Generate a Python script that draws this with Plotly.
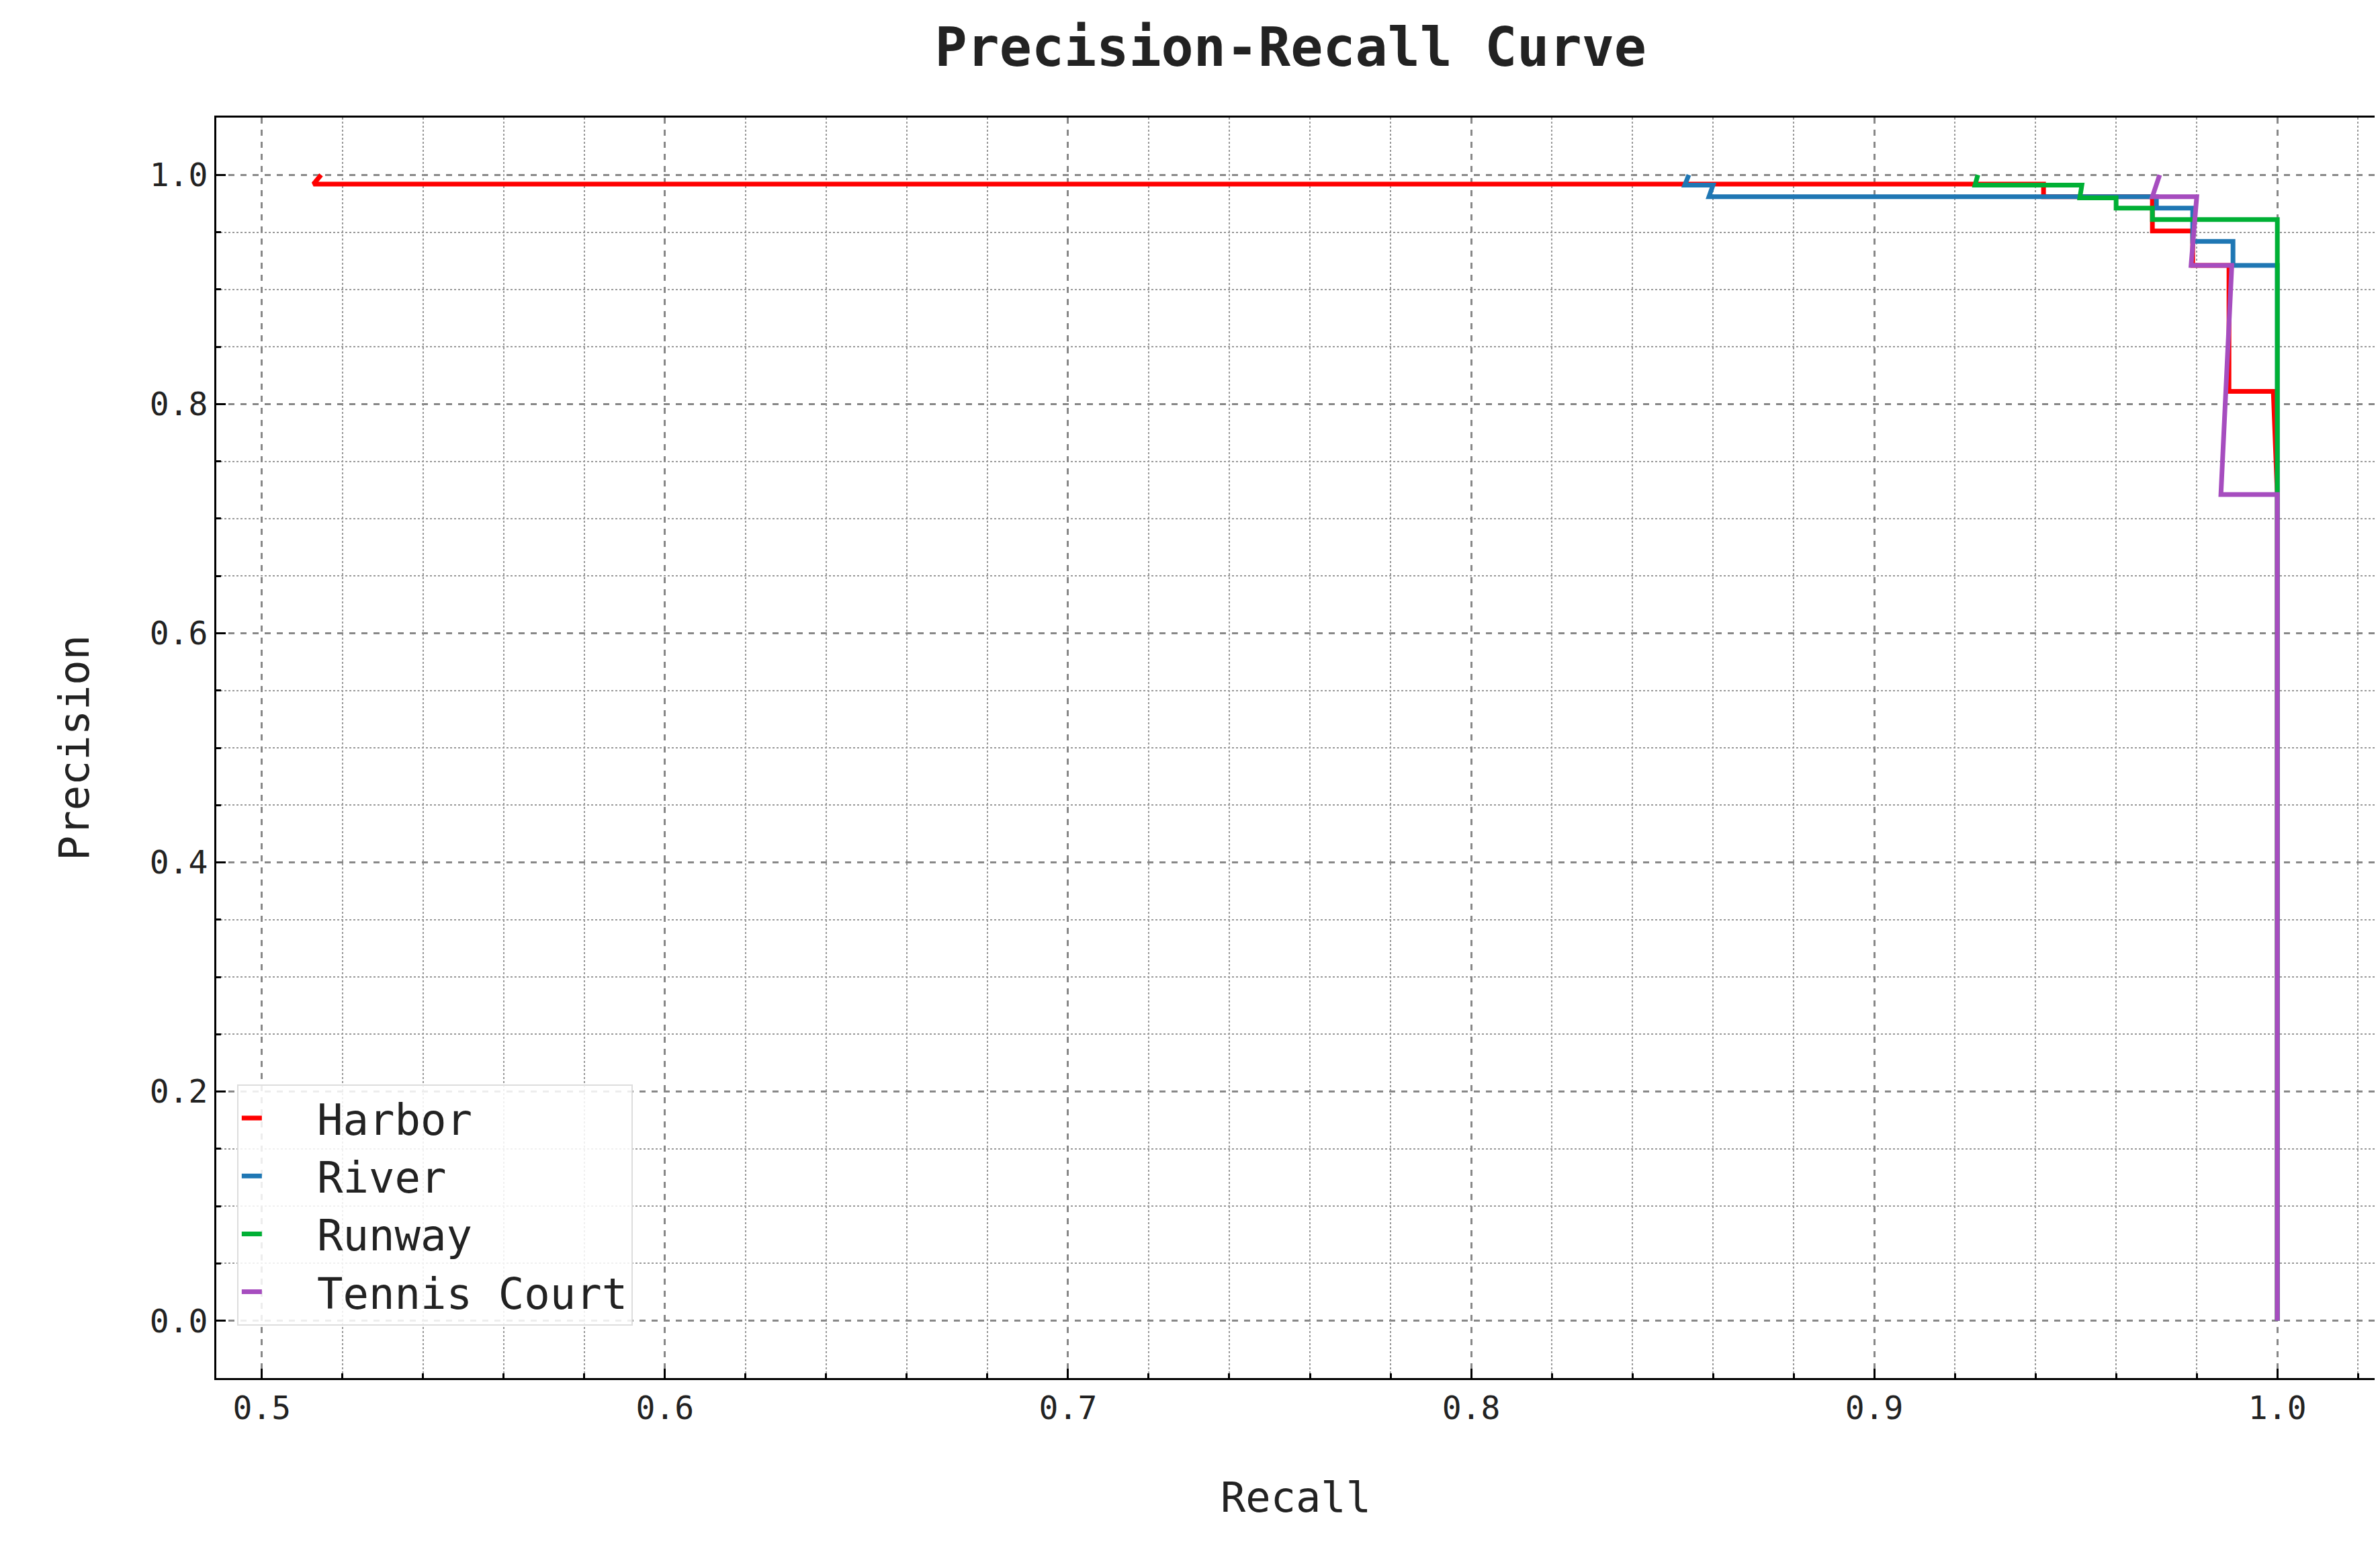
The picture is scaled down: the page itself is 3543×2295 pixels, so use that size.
import plotly.graph_objects as go

names = ["Harbor", "River", "Runway", "Tennis Court"]
colors = ["#ff0000", "#1f77b4", "#00b035", "#a64dbf"]
harbor_r = [0.5147, 0.5128, 0.942, 0.942, 0.969, 0.969, 0.979, 0.979, 0.988, 0.988, 0.999, 1.0, 1.0]
harbor_p = [1.0, 0.992, 0.992, 0.981, 0.981, 0.951, 0.951, 0.921, 0.921, 0.811, 0.811, 0.72, 0.0]
river_r = [0.854, 0.853, 0.860, 0.859, 0.970, 0.970, 0.979, 0.979, 0.989, 0.989, 1.0, 1.0]
river_p = [1.0, 0.991, 0.991, 0.981, 0.981, 0.971, 0.971, 0.942, 0.942, 0.921, 0.921, 0.0]
runway_r = [0.9257, 0.925, 0.9515, 0.951, 0.960, 0.960, 0.969, 0.969, 1.0, 1.0, 1.0]
runway_p = [1.0, 0.991, 0.991, 0.980, 0.980, 0.971, 0.971, 0.961, 0.961, 0.724, 0.0]
tennis_r = [0.9708, 0.969, 0.980, 0.9786, 0.9887, 0.986, 1.0, 1.0]
tennis_p = [1.0, 0.981, 0.981, 0.921, 0.921, 0.721, 0.721, 0.0]

series = [(harbor_r, harbor_p), (river_r, river_p), (runway_r, runway_p), (tennis_r, tennis_p)]

fig = go.Figure()
for name, c, (r, p) in zip(names, colors, series):
    fig.add_trace(go.Scatter(x=r, y=p, mode="lines", name="  " + name,
                             line=dict(color=c, width=7)))

font = "DejaVu Sans Mono"
axis_common = dict(
    showline=True, linecolor="black", linewidth=3, mirror=True,
    ticks="inside", ticklen=14, tickwidth=3, tickcolor="black",
    showgrid=True, gridcolor="#888888", gridwidth=3, griddash="dash",
    zeroline=False,
    tickfont=dict(family=font, size=48, color="#222222"),
)
fig.update_layout(
    width=3543, height=2295,
    paper_bgcolor="white", plot_bgcolor="white",
    margin=dict(l=314, r=13, t=167, b=252),
    title=dict(text="<b>Precision-Recall Curve</b>", x=0.54, xanchor="center",
               y=0.973, yanchor="middle",
               font=dict(family=font, size=80, color="#222222")),
    xaxis=dict(range=[0.4887, 1.0243], dtick=0.1, tickformat=".1f",
               title=dict(text="Recall", font=dict(family=font, size=62, color="#222222"), standoff=85),
               minor=dict(dtick=0.02, showgrid=True, gridcolor="#999999", gridwidth=2,
                          griddash="dot", ticks="inside", ticklen=7, tickcolor="black"),
               **axis_common),
    yaxis=dict(range=[-0.05, 1.05], dtick=0.2, tickformat=".1f",
               title=dict(text="Precision", font=dict(family=font, size=62, color="#222222"), standoff=70),
               minor=dict(dtick=0.05, showgrid=True, gridcolor="#999999", gridwidth=2,
                          griddash="dot", ticks="inside", ticklen=7, tickcolor="black"),
               **axis_common),
    legend=dict(x=0.0096, y=0.233, xanchor="left", yanchor="top",
                bgcolor="rgba(255,255,255,0.85)", bordercolor="#dddddd", borderwidth=2,
                font=dict(family=font, size=64, color="#222222"),
                tracegroupgap=0),
    showlegend=True,
)
fig.write_html("out.html")
